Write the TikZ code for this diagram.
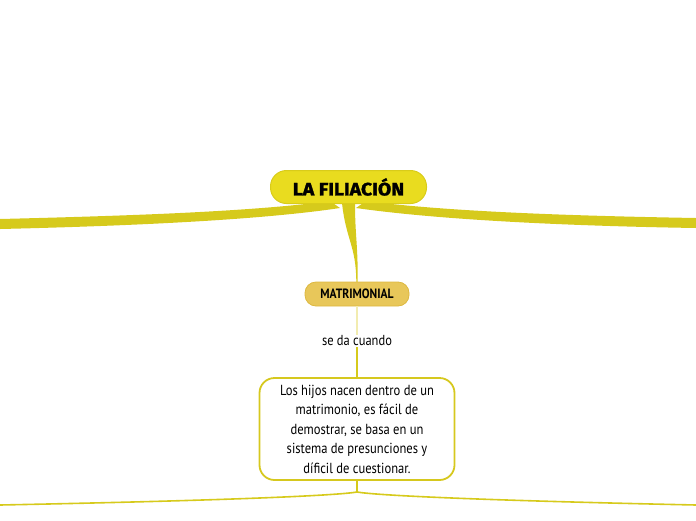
\documentclass[tikz,border=0pt]{standalone}
\usepackage{fontspec}
\setmainfont{PT Sans}[FakeStretch=0.86]
\newfontfamily\titlefont{Fira Sans}[FakeStretch=1.08,FakeBold=1.5]
\definecolor{branch}{HTML}{D6CA1C}
\definecolor{mainfill}{HTML}{E9DC1F}
\definecolor{mainedge}{HTML}{D9CC1A}
\definecolor{subfill}{HTML}{E8C75A}
\definecolor{subedge}{HTML}{DDB840}
\definecolor{pale}{HTML}{F2ECB0}
\definecolor{boxedge}{HTML}{D6C81E}
\begin{document}
\begin{tikzpicture}[x=1pt,y=-1pt,
  mainbox/.style={draw=mainedge,fill=mainfill,line width=1pt,rounded corners=16pt,minimum width=156pt,minimum height=33pt,inner sep=0pt,font=\titlefont\bfseries\fontsize{18}{20}\selectfont},
  subbox/.style={draw=subedge,fill=subfill,line width=0.8pt,rounded corners=11pt,minimum width=104pt,minimum height=24pt,inner sep=0pt,font=\bfseries\fontsize{13.5}{15}\selectfont},
  linklabel/.style={inner sep=1pt,font=\fontsize{14.5}{16}\selectfont},
  textbox/.style={draw=boxedge,fill=white,line width=1.8pt,rounded corners=15pt,minimum width=195pt,minimum height=102pt,align=center,inner sep=2pt,font=\fontsize{14.6}{19.5}\selectfont},
  thin/.style={draw=branch,line width=1.6pt}]
\useasboundingbox (0,0) rectangle (696,520);
% thick branches
\fill[branch] (330,201) .. controls (250,212) and (120,216) .. (0,219) -- (0,229) .. controls (130,226) and (260,220) .. (340,208) -- cycle;
\fill[branch] (366,201) .. controls (450,212) and (580,216) .. (696,218) -- (696,228) .. controls (570,226) and (440,220) .. (356,208) -- cycle;
\fill[branch] (342,203) .. controls (346,240) and (356,245) .. (356.3,282) -- (357.7,282) .. controls (358,245) and (355,235) .. (355,203) -- cycle;
% nodes
\node[mainbox] (main) at (348.5,187) {LA FILIACIÓN};
\node[subbox] (sub) at (357,294) {MATRIMONIAL};
\node[linklabel] (lab) at (357,341) {se da cuando};
\node[textbox] (txt) at (357,429) {Los hijos nacen dentro de un\\matrimonio, es fácil de\\demostrar, se basa en un\\sistema de presunciones y\\díficil de cuestionar.};
\coordinate (split) at (357,492);
\coordinate (lend) at (0,505);
\coordinate (rend) at (696,505);
% connectors
\draw[draw=pale,line width=1.6pt] (sub.south) -- (lab.north);
\draw[thin] (lab.south) -- (txt.north);
\draw[thin] (txt.south) -- (split);
\draw[thin] (split) .. controls (340,495) and (250,500) .. (lend);
\draw[thin] (split) .. controls (374,495) and (464,500) .. (rend);
\end{tikzpicture}
\end{document}
